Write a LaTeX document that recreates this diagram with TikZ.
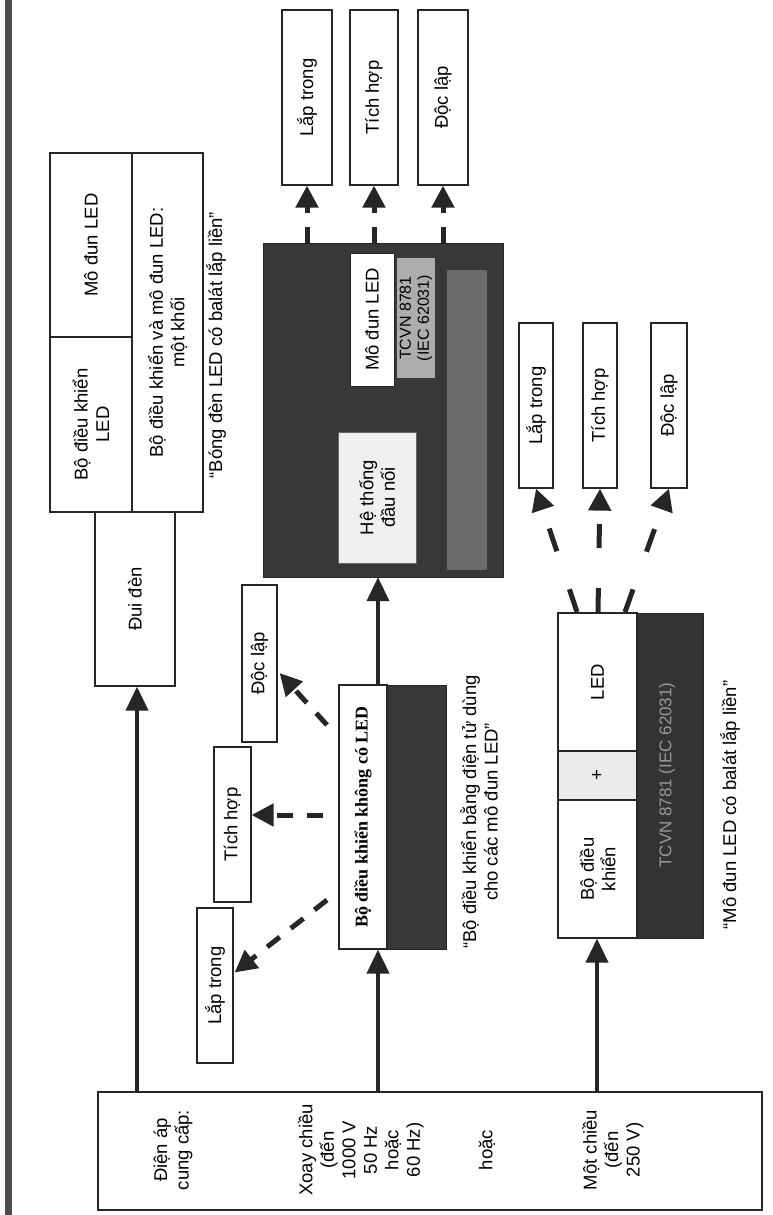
\documentclass[tikz,border=0pt]{standalone}
\usepackage{fontspec}
\setmainfont{Liberation Sans}
\newfontfamily\timesf{Liberation Serif}
\usetikzlibrary{arrows.meta,calc}
\tikzset{
  box/.style={draw=black!85, line width=1.2pt, fill=white, inner sep=0pt},
  rtext/.style={rotate=90, align=center, inner sep=0pt, font=\fontsize{18.5}{21.5}\selectfont},
  solidarr/.style={draw=black!85, line width=4pt, -{Triangle[length=24pt,width=22pt]}},
  dasharr/.style={draw=black!85, line width=5pt, dash pattern=on 16pt off 14pt, -{Triangle[length=22pt,width=22pt]}},
  darkfill/.style={fill=black!78, draw=black!85, inner sep=0pt},
}
\begin{document}
\begin{tikzpicture}[x=1pt,y=-1pt]
\useasboundingbox (0,0) rectangle (772,1215);
\fill[white] (0,0) rectangle (772,1215);
% left bar
\node[fill=black!70, minimum width=7pt, minimum height=1215pt, inner sep=0] (bar) at (8.5,607.5) {};

% lamp group
\node[box, minimum width=82pt, minimum height=184pt] (modA) at (91,245) {};
\node[rtext] (modAt) at (modA) {Mô đun LED};
\node[box, minimum width=82pt, minimum height=175pt] (ctlA) at (91,424.5) {};
\node[rtext] (ctlAt) at (ctlA) {Bộ điều khiển\\LED};
\node[box, minimum width=71pt, minimum height=359pt] (oneA) at (167.5,332.5) {};
\node[rtext] (oneAt) at (oneA) {Bộ điều khiển và mô đun LED:\\một khối};
\node[rtext] (lampL) at (216,345) {“Bóng đèn LED có balát lắp liền”};

% lamp holder
\node[box, minimum width=80pt, minimum height=174pt] (dui) at (135,599) {};
\node[rtext] (duit) at (dui) {Đui đèn};

% supply box
\node[box, minimum width=664pt, minimum height=118pt] (sup) at (430,1151) {};
\node[rtext] (sup1) at (173,1150) {Điện áp\\cung cấp:};
\node[rtext] (sup2) at (361,1150) {Xoay chiều\\(đến\\1000 V\\50 Hz\\hoặc\\60 Hz)};
\node[rtext] (sup3) at (487,1150) {hoặc};
\node[rtext] (sup4) at (613,1150) {Một chiều\\(đến\\250 V)};

\coordinate (xA) at (137,0);
\draw[solidarr] (sup.north -| xA) -- (dui.south -| xA);

% big dark box
\node[darkfill, minimum width=240pt, minimum height=334pt] (big) at (383,410) {};
\node[fill=black!58, minimum width=40pt, minimum height=300pt, inner sep=0] (strip) at (467,420) {};
\node[box, line width=0.8pt, minimum width=44pt, minimum height=133pt] (modB) at (372,319.5) {};
\node[rtext] (modBt) at (modB) {Mô đun LED};
\node[fill=black!32, minimum width=38pt, minimum height=120pt, inner sep=0] (tcvnB) at (416,318) {};
\node[rtext, font=\fontsize{16}{18}\selectfont] (tcvnBt) at (tcvnB) {TCVN 8781\\(IEC 62031)};
\node[fill=black!6, draw=black!60, minimum width=78pt, minimum height=131pt, inner sep=0] (conn) at (377,497.5) {};
\node[rtext] (connt) at (conn) {Hệ thống\\đầu nối};

% top boxes
\node[box, minimum width=50pt, minimum height=175pt] (lt1) at (307,97.5) {};
\node[rtext] (lt1t) at (lt1) {Lắp trong};
\node[box, minimum width=48pt, minimum height=175pt] (th1) at (374,97.5) {};
\node[rtext] (th1t) at (th1) {Tích hợp};
\node[box, minimum width=50pt, minimum height=175pt] (dl1) at (443,97.5) {};
\node[rtext] (dl1t) at (dl1) {Độc lập};
\draw[dasharr] (big.north -| lt1) -- (lt1.south);
\draw[dasharr] (big.north -| th1) -- (th1.south);
\draw[dasharr] (big.north -| dl1) -- (dl1.south);

% controller without LED
\node[box, minimum width=48pt, minimum height=264pt] (bdkW) at (363,817) {};
\node[darkfill, minimum width=59pt, minimum height=264pt] (bdkD) at (416.5,817) {};
\node[rtext, font=\timesf\bfseries\fontsize{18}{20}\selectfont] (bdkWt) at (bdkW) {Bộ điều khiển không có LED};
\node[rtext] (bdkL) at (479,812) {“Bộ điều khiển bằng điện tử dùng\\cho các mô đun LED”};
\coordinate (xB) at (378,0);
\draw[solidarr] (sup.north -| xB) -- (bdkW.south -| xB);
\draw[solidarr] (bdkW.north -| xB) -- (big.south -| xB);

% left small boxes
\node[box, minimum width=36pt, minimum height=155pt] (lt2) at (215,985.5) {};
\node[rtext] (lt2t) at (lt2) {Lắp trong};
\node[box, minimum width=37pt, minimum height=155pt] (th2) at (232.5,824.5) {};
\node[rtext] (th2t) at (th2) {Tích hợp};
\node[box, minimum width=35pt, minimum height=157pt] (dl2) at (259.5,663.5) {};
\node[rtext] (dl2t) at (dl2) {Độc lập};
\coordinate (s1) at (327,900);
\coordinate (s2) at (323,815);
\coordinate (s3) at (327,725);
\draw[dasharr] (s1) -- ($(lt2.east)+(1,-13)$);
\draw[dasharr] (s2) -- ($(th2.east)+(0,-9.5)$);
\draw[dasharr] (s3) -- ($(dl2.east)+(2,9.5)$);

% module with integrated ballast
\node[box, minimum width=79pt, minimum height=138pt] (led3) at (597.5,682) {};
\node[rtext] (led3t) at (led3) {LED};
\node[box, fill=black!8, minimum width=79pt, minimum height=49pt] (plus3) at (597.5,775.5) {};
\node[rtext] (plus3t) at (plus3) {+};
\node[box, minimum width=79pt, minimum height=138pt] (ctl3) at (597.5,869) {};
\node[rtext] (ctl3t) at (ctl3) {Bộ điều\\khiển};
\node[darkfill, fill=black!80, minimum width=66pt, minimum height=325pt] (strip3) at (670,775.5) {};
\node[rtext, text=black!40, font=\fontsize{17}{19}\selectfont] (strip3t) at (667,775) {TCVN 8781 (IEC 62031)};
\node[rtext] (modL) at (730,805) {“Mô đun LED có balát lắp liền”};
\coordinate (xC) at (597,0);
\draw[solidarr] (sup.north -| xC) -- (ctl3.south -| xC);

% top boxes (right)
\node[box, minimum width=34pt, minimum height=165pt] (lt3) at (536,405.5) {};
\node[rtext] (lt3t) at (lt3) {Lắp trong};
\node[box, minimum width=34pt, minimum height=165pt] (th3) at (600,405.5) {};
\node[rtext] (th3t) at (th3) {Tích hợp};
\node[box, minimum width=36pt, minimum height=165pt] (dl3) at (669,405.5) {};
\node[rtext] (dl3t) at (dl3) {Độc lập};
\coordinate (c1) at (577,612);
\coordinate (c2) at (598,612);
\coordinate (c3) at (625,612);
\draw[dasharr, dash pattern=on 24pt off 40pt] (c1) -- (lt3.south);
\draw[dasharr, dash pattern=on 24pt off 40pt] (c2) -- (th3.south);
\draw[dasharr, dash pattern=on 24pt off 40pt] (c3) -- (dl3.south);
\end{tikzpicture}
\end{document}
